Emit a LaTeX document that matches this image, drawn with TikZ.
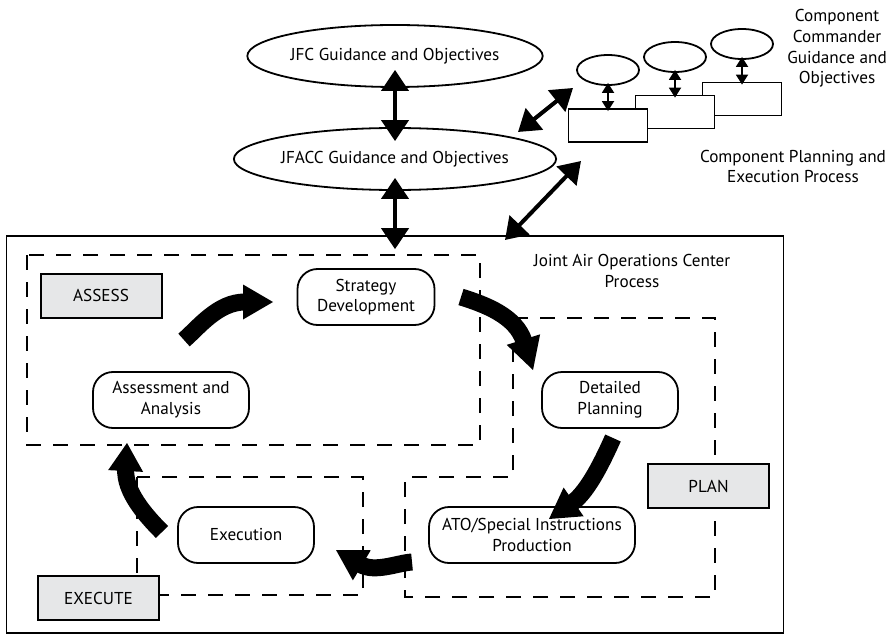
\documentclass[tikz,border=0pt]{standalone}
\usepackage{fontspec}
\setmainfont{PT Sans}
\usetikzlibrary{arrows.meta,calc,shapes.geometric}

\definecolor{phasegray}{HTML}{E6E7E8}

% filled triangular head for the thick cycle arrows: #1 base centre, #2 tip
\newcommand\flowhead[2]{%
  \fill ($#1!17.5pt!90:#2$) -- #2 -- ($#1!17.5pt!-90:#2$) -- cycle;}

\begin{document}
\begin{tikzpicture}[x=1pt, y=1pt, yscale=-1,
  font=\fontsize{17.2}{20.8}\selectfont,
  goal/.style={ellipse, draw, line width=1.8pt, fill=white,
    minimum width=275pt, minimum height=62pt, inner sep=0pt},
  minigoal/.style={ellipse, draw, line width=1.8pt, fill=white,
    minimum width=62pt, minimum height=30pt, inner sep=0pt},
  minibox/.style={draw, line width=1.8pt, fill=white,
    minimum width=79pt, minimum height=33pt, inner sep=0pt},
  procbox/.style={draw, line width=1.8pt, fill=white, rounded corners=20pt,
    minimum height=56pt, align=center, inner sep=0pt},
  phase/.style={draw, line width=2pt, fill=phasegray,
    minimum width=121pt, minimum height=44pt, inner sep=0pt},
  zone/.style={line width=1.6pt, dash pattern=on 15pt off 12pt},
  bigdbl/.style={line width=4pt,
    {Triangle[width=27pt,length=21pt]}-{Triangle[width=27pt,length=21pt]}},
  smalldbl/.style={line width=1.8pt,
    {Triangle[width=12pt,length=10pt]}-{Triangle[width=12pt,length=10pt]}},
  band/.style={line width=17pt, black},
  txt/.style={align=center, inner sep=0pt}]

\useasboundingbox (0,0) rectangle (890,644);

% ---------- upper guidance chain ----------
\node[goal] (jfc)   at (395,56)  {JFC Guidance and Objectives};
\node[goal] (jfacc) at (395,159) {JFACC Guidance and Objectives};

% ---------- joint air operations center frame ----------
\node[draw, line width=1.6pt, minimum width=777pt, minimum height=397pt,
      inner sep=0pt] (jaoc) at (395,434.5) {};
\node[txt] (jaoctext) at (632,271) {Joint Air Operations Center\\Process};

\draw[bigdbl] ($(jfc.south)+(0,-18)$) -- ($(jfacc.north)+(0,14)$);
\draw[bigdbl] ($(jfacc.south)+(0,-13)$) -- ($(jaoc.north)+(0,14)$);

% ---------- component stack ----------
\node[minibox] (cb3) at (742,99)    {};
\node[minibox] (cb2) at (675,112)   {};
\node[minibox] (cb1) at (608,125.5) {};
\node[minigoal] (cg1) at (608,70) {};
\node[minigoal] (cg2) at (675,57) {};
\node[minigoal] (cg3) at (742,44) {};
\draw[smalldbl] ($(cg1.south)+(0,-3)$) -- ($(cb1.north)+(0,3)$);
\draw[smalldbl] ($(cg2.south)+(0,-3)$) -- ($(cb2.north)+(0,3)$);
\draw[smalldbl] ($(cg3.south)+(0,-3)$) -- ($(cb3.north)+(0,3)$);

\node[txt] (cctext) at (837,48.5) {Component\\Commander\\Guidance and\\Objectives};
\node[txt] (cptext) at (793,166.5) {Component Planning and\\Execution Process};

\coordinate (linkA1) at (518,132);
\coordinate (linkA2) at (573,88);
\coordinate (linkB1) at (505,240);
\coordinate (linkB2) at (581,161);
\draw[bigdbl] (linkA1) -- (linkA2);
\draw[bigdbl] (linkB1) -- (linkB2);

% ---------- phase zones ----------
\draw[zone] (27,255) rectangle (480,445);
\draw[zone] (137,477) rectangle (363,595);
\draw[zone] (513,318) -- (715,318) -- (715,597) -- (405,597) -- (405,477)
  -- (513,477) -- cycle;

\node[phase] (assesslbl)  at (101,295.5) {ASSESS};
\node[phase] (planlbl)    at (708.5,486) {PLAN};
\node[phase] (executelbl) at (98.5,598)  {EXECUTE};

% ---------- process steps ----------
\node[procbox, minimum width=137pt] (strat)  at (366,297) {Strategy\\Development};
\node[procbox, minimum width=156pt] (assess) at (171,400) {Assessment and\\Analysis};
\node[procbox, minimum width=136pt] (detail) at (610,400) {Detailed\\Planning};
\node[procbox, minimum width=206pt] (ato)    at (532,535) {ATO/Special Instructions\\Production};
\node[procbox, minimum width=136pt] (exec)   at (246,535) {Execution};

% ---------- cycle arrows ----------
% assessment -> strategy
\coordinate (c1s) at (184,340);
\coordinate (c1b) at (243,302);
\coordinate (c1t) at (273,302);
\draw[band] (c1s) .. controls (199,327) and (218,302) .. ($(c1b)!2pt!(c1t)$);
\flowhead{(c1b)}{(c1t)}

% strategy -> detailed planning
\coordinate (c2s) at (461,297);
\coordinate (c2b) at (523.4,339.6);
\coordinate (c2t) at (533,370);
\draw[band] (c2s) .. controls (485,304.5) and (516,316) .. ($(c2b)!2pt!(c2t)$);
\flowhead{(c2b)}{(c2t)}

% detailed planning -> ATO production
\coordinate (c3s) at (613,438);
\coordinate (c3b) at (573.6,501.9);
\coordinate (c3t) at (549,519);
\draw[band] (c3s) .. controls (604,458) and (588.4,491.6) .. ($(c3b)!2pt!(c3t)$);
\flowhead{(c3b)}{(c3t)}

% ATO production -> execution
\coordinate (c4s) at (412,562);
\coordinate (c4b) at (361.8,565.3);
\coordinate (c4t) at (336,550);
\draw[band] (c4s) .. controls (397,563) and (374.7,573) .. ($(c4b)!2pt!(c4t)$);
\flowhead{(c4b)}{(c4t)}

% execution -> assessment
\coordinate (c5s) at (162,532);
\coordinate (c5b) at (125.6,471);
\coordinate (c5t) at (127,443);
\draw[band] (c5s) .. controls (144,514) and (124.6,491) .. ($(c5b)!2pt!(c5t)$);
\flowhead{(c5b)}{(c5t)}

\end{tikzpicture}
\end{document}
